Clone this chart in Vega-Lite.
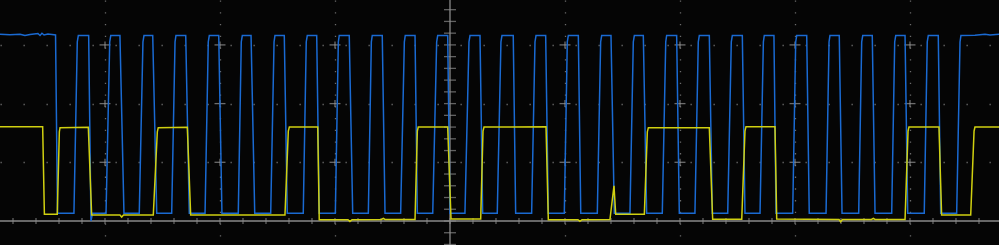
{
  "$schema": "https://vega.github.io/schema/vega-lite/v6.json",
  "width": 999,
  "height": 245,
  "autosize": {"type": "none"},
  "padding": 0,
  "background": "#050505",
  "config": {"view": {"stroke": null}, "axis": {"minExtent": 0, "maxExtent": 0, "offset": 0}},
  "datasets": {
    "clk": [
      {"t": -3.913, "v": 3.181}, {"t": -3.826, "v": 3.172}, {"t": -3.739, "v": 3.181}, {"t": -3.696, "v": 3.160},
      {"t": -3.652, "v": 3.177}, {"t": -3.583, "v": 3.194}, {"t": -3.565, "v": 3.160}, {"t": -3.548, "v": 3.198},
      {"t": -3.530, "v": 3.169}, {"t": -3.496, "v": 3.186}, {"t": -3.461, "v": 3.177}, {"t": -3.430, "v": 3.17},
      {"t": -3.413, "v": 0.13},
      {"t": -3.270, "v": 0.13}, {"t": -3.241, "v": 3.05}, {"t": -3.232, "v": 3.16}, {"t": -3.142, "v": 3.16}, {"t": -3.122, "v": 0.0}, {"t": -3.109, "v": 0.13},
      {"t": -2.991, "v": 0.13}, {"t": -2.959, "v": 3.05}, {"t": -2.950, "v": 3.16}, {"t": -2.870, "v": 3.16}, {"t": -2.835, "v": 0.13},
      {"t": -2.702, "v": 0.13}, {"t": -2.670, "v": 3.05}, {"t": -2.661, "v": 3.16}, {"t": -2.585, "v": 3.16}, {"t": -2.550, "v": 0.13},
      {"t": -2.420, "v": 0.13}, {"t": -2.391, "v": 3.05}, {"t": -2.383, "v": 3.16}, {"t": -2.298, "v": 3.16}, {"t": -2.267, "v": 0.13},
      {"t": -2.130, "v": 0.13}, {"t": -2.102, "v": 3.05}, {"t": -2.093, "v": 3.16}, {"t": -2.011, "v": 3.16}, {"t": -1.983, "v": 0.13},
      {"t": -1.841, "v": 0.13}, {"t": -1.815, "v": 3.05}, {"t": -1.806, "v": 3.16}, {"t": -1.730, "v": 3.16}, {"t": -1.698, "v": 0.13},
      {"t": -1.559, "v": 0.13}, {"t": -1.530, "v": 3.05}, {"t": -1.522, "v": 3.16}, {"t": -1.441, "v": 3.16}, {"t": -1.415, "v": 0.13},
      {"t": -1.276, "v": 0.13}, {"t": -1.250, "v": 3.05}, {"t": -1.241, "v": 3.16}, {"t": -1.159, "v": 3.16}, {"t": -1.137, "v": 0.13},
      {"t": -0.997, "v": 0.13}, {"t": -0.971, "v": 3.05}, {"t": -0.963, "v": 3.16}, {"t": -0.876, "v": 3.16}, {"t": -0.846, "v": 0.13},
      {"t": -0.710, "v": 0.13}, {"t": -0.684, "v": 3.05}, {"t": -0.676, "v": 3.16}, {"t": -0.589, "v": 3.16}, {"t": -0.565, "v": 0.13},
      {"t": -0.429, "v": 0.13}, {"t": -0.397, "v": 3.05}, {"t": -0.389, "v": 3.16}, {"t": -0.304, "v": 3.16}, {"t": -0.284, "v": 0.13},
      {"t": -0.150, "v": 0.13}, {"t": -0.116, "v": 3.05}, {"t": -0.107, "v": 3.16}, {"t": -0.020, "v": 3.16}, {"t": 0.000, "v": 0.13},
      {"t": 0.130, "v": 0.13}, {"t": 0.165, "v": 3.05}, {"t": 0.174, "v": 3.16}, {"t": 0.261, "v": 3.16}, {"t": 0.284, "v": 0.13},
      {"t": 0.411, "v": 0.13}, {"t": 0.443, "v": 3.05}, {"t": 0.452, "v": 3.16}, {"t": 0.550, "v": 3.16}, {"t": 0.571, "v": 0.13},
      {"t": 0.710, "v": 0.13}, {"t": 0.739, "v": 3.05}, {"t": 0.748, "v": 3.16}, {"t": 0.832, "v": 3.16}, {"t": 0.855, "v": 0.13},
      {"t": 0.994, "v": 0.13}, {"t": 1.020, "v": 3.05}, {"t": 1.029, "v": 3.16}, {"t": 1.116, "v": 3.16}, {"t": 1.137, "v": 0.13},
      {"t": 1.281, "v": 0.13}, {"t": 1.310, "v": 3.05}, {"t": 1.319, "v": 3.16}, {"t": 1.400, "v": 3.16}, {"t": 1.429, "v": 0.13},
      {"t": 1.565, "v": 0.13}, {"t": 1.594, "v": 3.05}, {"t": 1.603, "v": 3.16}, {"t": 1.681, "v": 3.16}, {"t": 1.710, "v": 0.13},
      {"t": 1.846, "v": 0.13}, {"t": 1.876, "v": 3.05}, {"t": 1.884, "v": 3.16}, {"t": 1.971, "v": 3.16}, {"t": 1.994, "v": 0.13},
      {"t": 2.130, "v": 0.13}, {"t": 2.159, "v": 3.05}, {"t": 2.168, "v": 3.16}, {"t": 2.255, "v": 3.16}, {"t": 2.281, "v": 0.13},
      {"t": 2.415, "v": 0.13}, {"t": 2.446, "v": 3.05}, {"t": 2.455, "v": 3.16}, {"t": 2.542, "v": 3.16}, {"t": 2.565, "v": 0.13},
      {"t": 2.696, "v": 0.13}, {"t": 2.725, "v": 3.05}, {"t": 2.733, "v": 3.16}, {"t": 2.817, "v": 3.16}, {"t": 2.835, "v": 0.13},
      {"t": 2.980, "v": 0.13}, {"t": 3.006, "v": 3.05}, {"t": 3.015, "v": 3.16}, {"t": 3.102, "v": 3.16}, {"t": 3.124, "v": 0.13},
      {"t": 3.270, "v": 0.13}, {"t": 3.296, "v": 3.05}, {"t": 3.304, "v": 3.16}, {"t": 3.385, "v": 3.16}, {"t": 3.409, "v": 0.13},
      {"t": 3.554, "v": 0.13}, {"t": 3.580, "v": 3.05}, {"t": 3.589, "v": 3.16}, {"t": 3.672, "v": 3.16}, {"t": 3.696, "v": 0.13},
      {"t": 3.841, "v": 0.13}, {"t": 3.867, "v": 3.05}, {"t": 3.876, "v": 3.16}, {"t": 3.957, "v": 3.16}, {"t": 3.980, "v": 0.13},
      {"t": 4.124, "v": 0.13}, {"t": 4.150, "v": 3.05}, {"t": 4.159, "v": 3.16}, {"t": 4.246, "v": 3.16}, {"t": 4.267, "v": 0.13},
      {"t": 4.406, "v": 0.13}, {"t": 4.435, "v": 3.05}, {"t": 4.443, "v": 3.16}, {"t": 4.565, "v": 3.165}, {"t": 4.652, "v": 3.18},
      {"t": 4.696, "v": 3.17}, {"t": 4.774, "v": 3.18}
    ],
    "dat": [
      {"t": -3.913, "v": 1.607}, {"t": -3.542, "v": 1.607}, {"t": -3.527, "v": 0.114}, {"t": -3.415, "v": 0.114},
      {"t": -3.397, "v": 1.52}, {"t": -3.391, "v": 1.59}, {"t": -3.145, "v": 1.595}, {"t": -3.116, "v": 0.102},
      {"t": -2.870, "v": 0.102}, {"t": -2.855, "v": 0.068}, {"t": -2.839, "v": 0.102}, {"t": -2.580, "v": 0.102},
      {"t": -2.545, "v": 1.52}, {"t": -2.537, "v": 1.59}, {"t": -2.284, "v": 1.595}, {"t": -2.255, "v": 0.102},
      {"t": -1.435, "v": 0.102}, {"t": -1.406, "v": 1.53}, {"t": -1.397, "v": 1.6}, {"t": -1.150, "v": 1.6},
      {"t": -1.137, "v": 0.02}, {"t": -0.887, "v": 0.022}, {"t": -0.870, "v": -0.01}, {"t": -0.852, "v": 0.022},
      {"t": -0.596, "v": 0.026}, {"t": -0.580, "v": 0.046}, {"t": -0.565, "v": 0.026}, {"t": -0.304, "v": 0.026},
      {"t": -0.284, "v": 1.53}, {"t": -0.276, "v": 1.6}, {"t": -0.020, "v": 1.6}, {"t": 0.009, "v": 0.034},
      {"t": 0.267, "v": 0.034}, {"t": 0.287, "v": 1.53}, {"t": 0.296, "v": 1.6}, {"t": 0.835, "v": 1.605},
      {"t": 0.855, "v": 0.02}, {"t": 1.113, "v": 0.022}, {"t": 1.130, "v": -0.005}, {"t": 1.148, "v": 0.022},
      {"t": 1.391, "v": 0.024}, {"t": 1.426, "v": 0.601}, {"t": 1.441, "v": 0.114}, {"t": 1.690, "v": 0.114},
      {"t": 1.716, "v": 1.52}, {"t": 1.725, "v": 1.59}, {"t": 2.255, "v": 1.59}, {"t": 2.284, "v": 0.029},
      {"t": 2.537, "v": 0.029}, {"t": 2.565, "v": 1.53}, {"t": 2.574, "v": 1.607}, {"t": 2.826, "v": 1.607},
      {"t": 2.841, "v": 0.034}, {"t": 3.383, "v": 0.026}, {"t": 3.397, "v": -0.012}, {"t": 3.413, "v": 0.026},
      {"t": 3.665, "v": 0.026}, {"t": 3.681, "v": 0.046}, {"t": 3.696, "v": 0.026}, {"t": 3.957, "v": 0.026},
      {"t": 3.983, "v": 1.53}, {"t": 3.991, "v": 1.6}, {"t": 4.252, "v": 1.6}, {"t": 4.275, "v": 0.102},
      {"t": 4.528, "v": 0.102}, {"t": 4.557, "v": 1.53}, {"t": 4.565, "v": 1.6}, {"t": 4.774, "v": 1.6}
    ],
    "xt": [
      {"t": -3.8}, {"t": -3.6}, {"t": -3.4}, {"t": -3.2}, {"t": -3.0}, {"t": -2.8}, {"t": -2.6}, {"t": -2.4}, {"t": -2.2}, {"t": -2.0},
      {"t": -1.8}, {"t": -1.6}, {"t": -1.4}, {"t": -1.2}, {"t": -1.0}, {"t": -0.8}, {"t": -0.6}, {"t": -0.4}, {"t": -0.2}, {"t": 0.0},
      {"t": 0.2}, {"t": 0.4}, {"t": 0.6}, {"t": 0.8}, {"t": 1.0}, {"t": 1.2}, {"t": 1.4}, {"t": 1.6}, {"t": 1.8}, {"t": 2.0},
      {"t": 2.2}, {"t": 2.4}, {"t": 2.6}, {"t": 2.8}, {"t": 3.0}, {"t": 3.2}, {"t": 3.4}, {"t": 3.6}, {"t": 3.8}, {"t": 4.0},
      {"t": 4.2}, {"t": 4.4}, {"t": 4.6}
    ],
    "yt": [
      {"v": -0.4}, {"v": -0.2}, {"v": 0.0}, {"v": 0.2}, {"v": 0.4}, {"v": 0.6}, {"v": 0.8}, {"v": 1.0}, {"v": 1.2}, {"v": 1.4},
      {"v": 1.6}, {"v": 1.8}, {"v": 2.0}, {"v": 2.2}, {"v": 2.4}, {"v": 2.6}, {"v": 2.8}, {"v": 3.0}, {"v": 3.2}, {"v": 3.4}, {"v": 3.6}
    ],
    "cross": [
      {"t": -3, "v": 1}, {"t": -3, "v": 2}, {"t": -3, "v": 3},
      {"t": -2, "v": 1}, {"t": -2, "v": 2}, {"t": -2, "v": 3},
      {"t": -1, "v": 1}, {"t": -1, "v": 2}, {"t": -1, "v": 3},
      {"t": 1, "v": 1}, {"t": 1, "v": 2}, {"t": 1, "v": 3},
      {"t": 2, "v": 1}, {"t": 2, "v": 2}, {"t": 2, "v": 3},
      {"t": 3, "v": 1}, {"t": 3, "v": 2}, {"t": 3, "v": 3},
      {"t": 4, "v": 1}, {"t": 4, "v": 2}, {"t": 4, "v": 3}
    ]
  },
  "layer": [
    {
      "data": {"name": "cross"},
      "mark": {"type": "tick", "orient": "horizontal", "size": 11, "thickness": 1.3, "color": "#9a9a9a"},
      "encoding": {
        "x": {"field": "t", "type": "quantitative", "scale": {"domain": [-3.913, 4.774], "nice": false, "zero": false},
              "axis": {"values": [-3, -2, -1, 1, 2, 3, 4], "grid": true, "labels": false, "ticks": false, "domain": false, "title": null, "gridColor": "#6a6a6a", "gridWidth": 1.3, "gridDash": [1.3, 10.44], "gridDashOffset": 0}},
        "y": {"field": "v", "type": "quantitative", "scale": {"domain": [-0.409, 3.765], "nice": false, "zero": false},
              "axis": {"values": [1, 2, 3], "grid": true, "labels": false, "ticks": false, "domain": false, "title": null, "gridColor": "#6a6a6a", "gridWidth": 1.3, "gridDash": [1.3, 21.7], "gridDashOffset": 0}}
      }
    },
    {
      "data": {"name": "cross"},
      "mark": {"type": "tick", "orient": "vertical", "size": 7, "thickness": 1.3, "color": "#9a9a9a"},
      "encoding": {
        "x": {"field": "t", "type": "quantitative"},
        "y": {"field": "v", "type": "quantitative"}
      }
    },
    {
      "data": {"values": [{"t": 0, "v": 0}]},
      "mark": {"type": "rule", "color": "#8a8a8a", "strokeWidth": 1.3},
      "encoding": {"y": {"field": "v", "type": "quantitative"}}
    },
    {
      "data": {"values": [{"t": 0, "v": 0}]},
      "mark": {"type": "rule", "color": "#8a8a8a", "strokeWidth": 1.3},
      "encoding": {"x": {"field": "t", "type": "quantitative"}}
    },
    {
      "data": {"name": "xt"},
      "mark": {"type": "tick", "orient": "vertical", "size": 6, "thickness": 1.3, "color": "#8a8a8a"},
      "encoding": {
        "x": {"field": "t", "type": "quantitative"},
        "y": {"datum": 0, "type": "quantitative"}
      }
    },
    {
      "data": {"name": "yt"},
      "mark": {"type": "tick", "orient": "horizontal", "size": 12, "thickness": 1.3, "color": "#8a8a8a"},
      "encoding": {
        "x": {"datum": 0, "type": "quantitative"},
        "y": {"field": "v", "type": "quantitative"}
      }
    },
    {
      "data": {"name": "clk"},
      "mark": {"type": "line", "color": "#1a6ad2", "strokeWidth": 1.5},
      "encoding": {
        "x": {"field": "t", "type": "quantitative"},
        "y": {"field": "v", "type": "quantitative"}
      }
    },
    {
      "data": {"name": "dat"},
      "mark": {"type": "line", "color": "#d0d010", "strokeWidth": 1.5},
      "encoding": {
        "x": {"field": "t", "type": "quantitative"},
        "y": {"field": "v", "type": "quantitative"}
      }
    }
  ]
}
